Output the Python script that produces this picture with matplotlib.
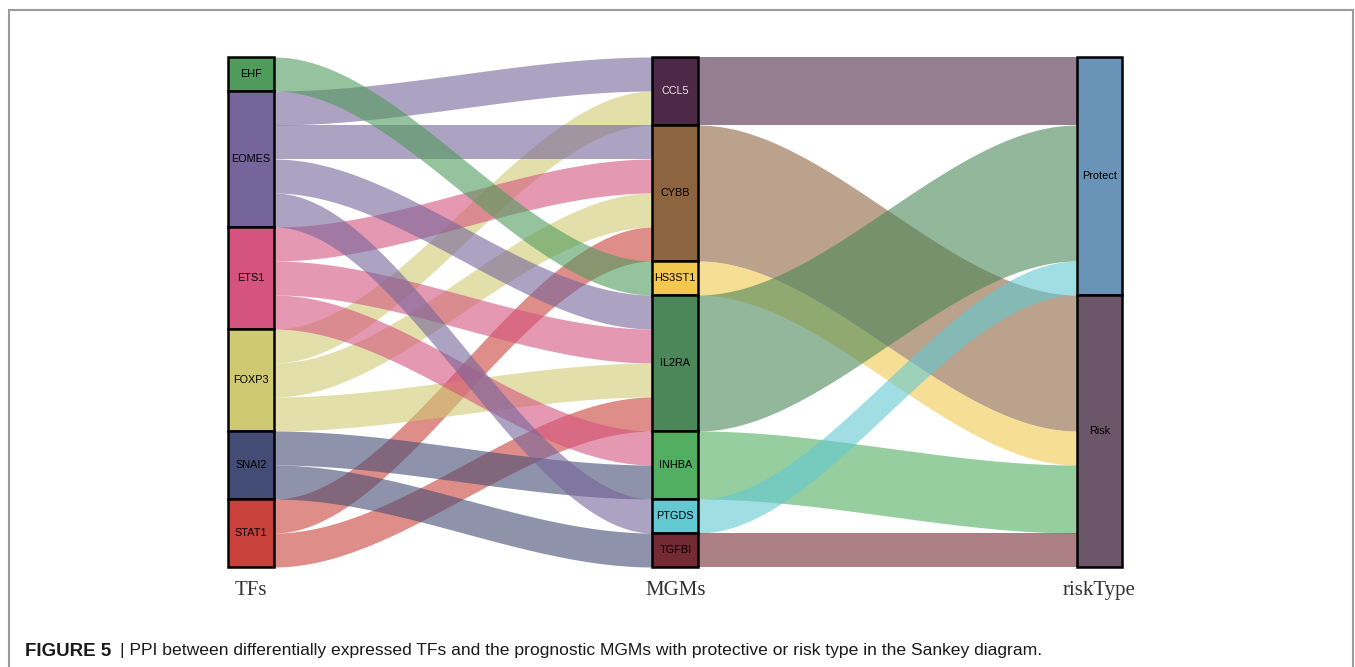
import numpy as np
import matplotlib
matplotlib.use("Agg")
import matplotlib.pyplot as plt
from matplotlib.patches import Rectangle

# data: each TF-MGM link is one row (weight 1)
tfs = ["EHF", "EOMES", "ETS1", "FOXP3", "SNAI2", "STAT1"]
mgms = ["CCL5", "CYBB", "HS3ST1", "IL2RA", "INHBA", "PTGDS", "TGFBI"]
risk_types = ["Protect", "Risk"]
link_tf = ["EHF", "EOMES", "EOMES", "EOMES", "EOMES", "ETS1", "ETS1", "ETS1",
           "FOXP3", "FOXP3", "FOXP3", "SNAI2", "SNAI2", "STAT1", "STAT1"]
link_mgm = ["HS3ST1", "CCL5", "CYBB", "IL2RA", "PTGDS", "CYBB", "IL2RA", "INHBA",
            "CCL5", "CYBB", "IL2RA", "INHBA", "TGFBI", "CYBB", "IL2RA"]
mgm_risk = ["Protect", "Risk", "Risk", "Protect", "Risk", "Protect", "Risk"]

tf_colors = ["#4F9B5C", "#75659A", "#D5537F", "#CFCA72", "#434C74", "#C8413A"]
mgm_colors = ["#4D2847", "#8C643F", "#F3C84F", "#4B8758", "#52AE61", "#62C9D3", "#732A33"]
risk_colors = ["#6A94B7", "#6C5669"]

total = len(link_tf)
w = 0.108  # stratum width
cols = {"TFs": 1, "MGMs": 2, "riskType": 3}

fig = plt.figure(figsize=(13.55, 6.67), dpi=100)
ax = fig.add_axes([39 / 1355, 100 / 667, 1272.5 / 1355, 510 / 667])
ax.set_xlim(0.5, 3.5)
ax.set_ylim(0, total)
ax.axis("off")


def smooth_band(x0, x1, t0, t1, b0, b1, color, alpha):
    xs = np.linspace(x0, x1, 200)
    s = (xs - x0) / (x1 - x0)
    s = 3 * s**2 - 2 * s**3
    top = t0 + (t1 - t0) * s
    bot = b0 + (b1 - b0) * s
    ax.fill_between(xs, bot, top, color=color, alpha=alpha, lw=0, zorder=1)


# stratum tops (stacked from the top down)
def tops(names, counts):
    out, y = {}, total
    for n, c in zip(names, counts):
        out[n] = y
        y -= c
    return out

tf_counts = [link_tf.count(t) for t in tfs]
mgm_counts = [link_mgm.count(m) for m in mgms]
risk_counts = [sum(c for c, r in zip(mgm_counts, mgm_risk) if r == rt) for rt in risk_types]

tf_top = tops(tfs, tf_counts)
mgm_top = tops(mgms, mgm_counts)
risk_top = tops(risk_types, risk_counts)

# TF -> MGM flows
tf_cur = dict(tf_top)
mgm_cur = dict(mgm_top)
order = sorted(range(total), key=lambda i: (tfs.index(link_tf[i]), mgms.index(link_mgm[i])))
left_y = {}
for i in order:
    left_y[i] = tf_cur[link_tf[i]]
    tf_cur[link_tf[i]] -= 1
order = sorted(range(total), key=lambda i: (mgms.index(link_mgm[i]), tfs.index(link_tf[i])))
for i in order:
    ry = mgm_cur[link_mgm[i]]
    mgm_cur[link_mgm[i]] -= 1
    ly = left_y[i]
    smooth_band(1 + w / 2, 2 - w / 2, ly, ry, ly - 1, ry - 1,
                tf_colors[tfs.index(link_tf[i])], 0.6)

# MGM -> riskType flows
risk_cur = dict(risk_top)
for m, c, r, col in zip(mgms, mgm_counts, mgm_risk, mgm_colors):
    ly = mgm_top[m]
    ry = risk_cur[r]
    risk_cur[r] -= c
    smooth_band(2 + w / 2, 3 - w / 2, ly, ry, ly - c, ry - c, col, 0.6)

# strata
def draw_strata(x, names, counts, colors, tcols):
    y = total
    for n, c, col, tc in zip(names, counts, colors, tcols):
        ax.bar(x, c, bottom=y - c, width=w, color=col, edgecolor="black",
               linewidth=1.8, zorder=3, clip_on=False)
        ax.text(x, y - c / 2, n, ha="center", va="center", fontsize=7.8,
                color=tc, family="Liberation Sans", zorder=4)
        y -= c

draw_strata(1, tfs, tf_counts, tf_colors, ["black"] * len(tfs))
draw_strata(2, mgms, mgm_counts, mgm_colors,
            ["#E6E6E6"] + ["black"] * (len(mgms) - 1))
draw_strata(3, risk_types, risk_counts, risk_colors, ["black", "black"])

for name, x in cols.items():
    ax.text(x, -0.68, name, ha="center", va="center", fontsize=15,
            family="Liberation Serif", color="#333333", clip_on=False)

# frame and caption
fig.patches.append(Rectangle((9 / 1355, -0.05), 1344 / 1355, 1 - 9.5 / 667 + 0.05,
                             transform=fig.transFigure, fill=False,
                             edgecolor="#9A9A9A", linewidth=1.5))
fig.text(25 / 1355, 1 - 651 / 667, "FIGURE 5", fontsize=13.5, fontweight="bold",
         family="Liberation Sans", va="center", ha="left", color="#1a1a1a")
fig.text(120 / 1355, 1 - 651 / 667,
         "| PPI between differentially expressed TFs and the prognostic MGMs with protective or risk type in the Sankey diagram.",
         fontsize=12.6, family="Liberation Sans", va="center", ha="left", color="#1a1a1a")

fig.savefig("out.png", dpi=100)
